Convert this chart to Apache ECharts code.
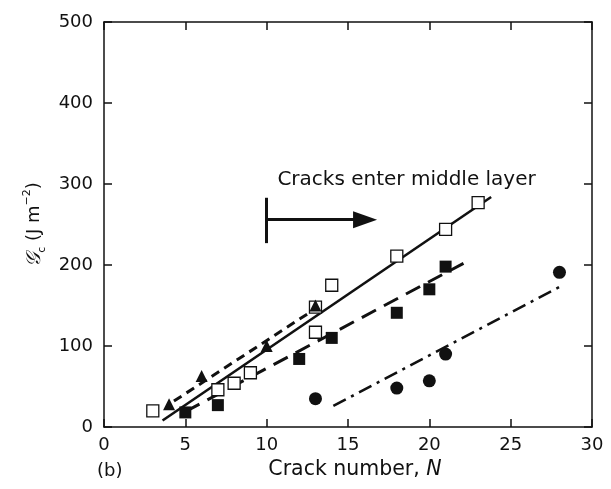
<!DOCTYPE html>
<html>
<head>
<meta charset="utf-8">
<script src="https://cdn.jsdelivr.net/npm/echarts@6/dist/echarts.min.js"></script>
<style>
  html, body { margin: 0; padding: 0; background: #fff; }
  #chart { width: 611px; height: 489px; }
</style>
</head>
<body>
<div id="chart"></div>
<script>
// Measured points: [crack number N, Gc in J m^-2]
const openSquares = [[3, 20], [7, 46], [8, 54], [9, 67], [13, 148], [13, 117], [14, 175], [18, 211], [21, 244], [23, 277]];
const triangles = [[4, 28], [6, 63], [10, 100], [13, 150]];
const filledSquares = [[5, 18], [7, 27], [12, 84], [14, 110], [18, 141], [20, 170], [21, 198]];
const circles = [[13, 35], [18, 48], [20, 57], [21, 90], [28, 191]];

// Straight-line fits through each data set (end points)
const solidFit = [[3.6, 8], [23.8, 284]];
const shortDashFit = [[4.3, 32], [13.3, 150]];
const longDashFit = [[5.0, 19], [22.1, 202]];
const dashDotFit = [[14.1, 26], [28.1, 174]];

// Annotation: bar at N = 10 and arrow pointing to higher N
const arrowBar = [[10, 227], [10, 283]];
const arrowShaft = [[10, 256], [16.05, 256]];
const noteAt = [18.6, 305];
const noteText = 'Cracks enter middle layer';

const xTicks = { min: 0, max: 30, interval: 5 };
const yTicks = { min: 0, max: 500, interval: 100 };

const ink = '#111';
const font = 'DejaVu Sans';

const chart = echarts.init(document.getElementById('chart'));

const tickAxis = {
  axisLine: { show: true, onZero: false, lineStyle: { color: ink, width: 1.5 } },
  axisTick: { show: true, inside: true, length: 8, lineStyle: { color: ink, width: 1.5 } },
  splitLine: { show: false }
};

function fitLine(data, type, width) {
  return {
    type: 'line', data: data, symbol: 'none', silent: true, z: 3,
    lineStyle: { color: ink, width: width, type: type }
  };
}

function scatter(data, symbol, size, filled) {
  return {
    type: 'scatter', data: data, symbol: symbol, symbolSize: size, z: 4,
    itemStyle: filled
      ? { color: ink, opacity: 1 }
      : { color: '#fff', borderColor: ink, borderWidth: 1.3, opacity: 1 }
  };
}

chart.setOption({
  animation: false,
  backgroundColor: '#fff',
  textStyle: { fontFamily: font, color: ink },
  title: {
    text: '(b)', left: 92, top: 457,
    textStyle: { fontFamily: font, fontSize: 18, fontWeight: 'normal', color: ink }
  },
  grid: { left: 104, right: 19, top: 22, bottom: 62 },
  xAxis: [
    Object.assign({
      type: 'value', position: 'bottom', min: xTicks.min, max: xTicks.max, interval: xTicks.interval,
      name: 'Crack number, {i|N}', nameLocation: 'middle', nameGap: 29,
      nameTextStyle: {
        fontFamily: font, fontSize: 20.5, color: ink, padding: [0, 0, 0, 14],
        rich: { i: { fontFamily: font, fontSize: 20.5, fontStyle: 'italic', color: ink } }
      },
      axisLabel: { fontFamily: font, fontSize: 18, color: ink, margin: 9 }
    }, tickAxis),
    Object.assign({
      type: 'value', position: 'top', min: xTicks.min, max: xTicks.max, interval: xTicks.interval,
      axisLabel: { show: false }
    }, tickAxis)
  ],
  yAxis: [
    Object.assign({
      type: 'value', position: 'left', min: yTicks.min, max: yTicks.max, interval: yTicks.interval,
      name: '{g|𝒢}{c|c} (J m{s|−2})', nameLocation: 'middle', nameGap: 56,
      nameTextStyle: {
        fontFamily: font, fontSize: 18, color: ink, lineHeight: 26,
        rich: {
          g: { fontFamily: 'DejaVu Serif', fontSize: 20, fontStyle: 'italic', color: ink },
          c: { fontFamily: font, fontSize: 11, color: ink, verticalAlign: 'bottom', lineHeight: 26 },
          s: { fontFamily: font, fontSize: 11, color: ink, verticalAlign: 'top', lineHeight: 26 }
        }
      },
      axisLabel: { fontFamily: font, fontSize: 18, color: ink, margin: 11 }
    }, tickAxis),
    Object.assign({
      type: 'value', position: 'right', min: yTicks.min, max: yTicks.max, interval: yTicks.interval,
      axisLabel: { show: false }
    }, tickAxis)
  ],
  series: [
    Object.assign(fitLine(solidFit, 'solid', 2.6), {
      markLine: {
        silent: true, animation: false,
        lineStyle: { color: ink, width: 3, type: 'solid' },
        label: { show: false },
        data: [
          [{ coord: arrowBar[0], symbol: 'none' }, { coord: arrowBar[1], symbol: 'none' }],
          [{ coord: arrowShaft[0], symbol: 'none' }, { coord: arrowShaft[1], symbol: 'triangle', symbolSize: [17, 24] }]
        ]
      },
      markPoint: {
        silent: true, symbol: 'rect', symbolSize: 1,
        itemStyle: { color: 'rgba(0,0,0,0)' },
        label: { show: true, position: 'inside', formatter: noteText, fontFamily: font, fontSize: 20, color: ink },
        data: [{ coord: noteAt }]
      }
    }),
    fitLine(shortDashFit, [9, 6], 3),
    fitLine(longDashFit, [16, 9], 3),
    fitLine(dashDotFit, [14, 6, 3, 6], 2.6),
    scatter(openSquares, 'rect', 12, false),
    scatter(triangles, 'triangle', 12, true),
    scatter(filledSquares, 'rect', 12, true),
    scatter(circles, 'circle', 13, true)
  ]
});
</script>
</body>
</html>
